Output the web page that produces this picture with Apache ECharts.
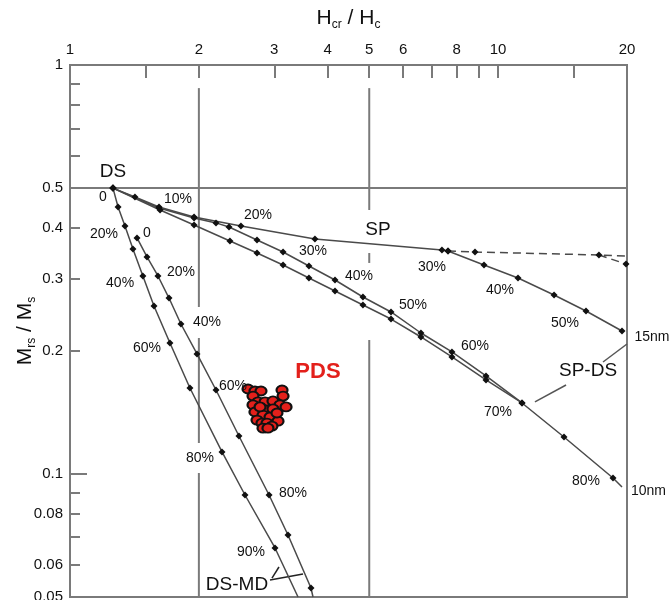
<!DOCTYPE html>
<html>
<head>
<meta charset="utf-8">
<script src="https://cdn.jsdelivr.net/npm/echarts@6/dist/echarts.min.js"></script>
<style>
  html, body { margin: 0; padding: 0; background: #fff; }
  #chart { width: 669px; height: 600px; }
</style>
</head>
<body>
<div id="chart"></div>
<script>
// Axis ticks and labels (both axes logarithmic)
const xTickValues = [1.5, 2, 3, 4, 5, 6, 7, 8, 9, 10, 15];
const xLabelValues = [1, 2, 3, 4, 5, 6, 8, 10, 20];
const yTickValues = [0.06, 0.07, 0.08, 0.09, 0.2, 0.3, 0.4, 0.6, 0.7, 0.8, 0.9];
const yLongTickValues = [0.1];
const yLabelValues = [0.05, 0.06, 0.08, 0.1, 0.2, 0.3, 0.4, 0.5, 1];

// Mixing curves, points are [Hcr/Hc, Mrs/Ms]
// SP–DS mixing through the SP trend, ending at 15 nm
const spDsCurve15 = [
  [1.26, 0.5], [1.418, 0.4755], [1.614, 0.4495], [1.949, 0.425], [2.508, 0.404],
  [3.734, 0.3754], [7.393, 0.3529], [7.636, 0.3509], [9.268, 0.3243], [11.13, 0.3014],
  [13.51, 0.2739], [16.04, 0.2503], [19.47, 0.2236]
];
// SP–DS mixing ending at 10 nm (two nearly coincident curves)
const spDsCurve10a = [
  [1.26, 0.5], [1.614, 0.447], [1.949, 0.4225], [2.193, 0.411], [2.352, 0.4017],
  [2.734, 0.3733], [3.145, 0.3489], [3.615, 0.3225], [4.159, 0.298], [4.834, 0.2708],
  [5.621, 0.2489], [6.603, 0.2211], [7.801, 0.1987], [9.368, 0.1736], [11.37, 0.1491],
  [14.25, 0.1231], [18.55, 0.0977]
];
const spDsCurve10aEnd = [19.47, 0.0929];
const spDsCurve10b = [
  [1.26, 0.5], [1.623, 0.442], [1.949, 0.4063], [2.364, 0.3712], [2.734, 0.3469],
  [3.145, 0.3243], [3.615, 0.3014], [4.159, 0.2801], [4.834, 0.2588], [5.621, 0.2392],
  [6.603, 0.2162], [7.801, 0.1932], [9.368, 0.1697], [11.37, 0.1491]
];
// Saturated SP continuation (dashed)
const spSaturated = [[7.636, 0.3509], [8.831, 0.3489], [17.2, 0.3431]];
const spSaturatedEnd = [20, 0.3411];
const spSaturatedBranch = [[17.2, 0.3431], [19.89, 0.3261]];

// DS–MD mixing curves
const dsMdCurveA = [
  [1.26, 0.5], [1.295, 0.4495], [1.344, 0.404], [1.403, 0.3548], [1.48, 0.3048],
  [1.571, 0.2574], [1.712, 0.209], [1.906, 0.1622], [2.265, 0.1132], [2.563, 0.0888],
  [3.012, 0.0659]
];
const dsMdCurveAEnd = [3.409, 0.05];
const dsMdCurveB = [
  [1.434, 0.3776], [1.513, 0.3393], [1.605, 0.3048], [1.703, 0.2692], [1.816, 0.2326],
  [1.98, 0.1965], [2.193, 0.1604], [2.481, 0.1238], [2.917, 0.0888], [3.23, 0.0709],
  [3.655, 0.0526]
];
const dsMdCurveBEnd = [3.695, 0.05];

// Measured PDS samples
const pdsSamples = [
  [2.605, 0.1613], [2.704, 0.1595], [2.793, 0.1595], [3.128, 0.1604], [3.145, 0.155],
  [2.676, 0.155], [2.749, 0.15], [2.854, 0.15], [2.979, 0.1508], [3.094, 0.1475],
  [3.196, 0.1458], [2.676, 0.1475], [2.885, 0.1433], [2.979, 0.1442], [2.704, 0.1417],
  [2.824, 0.1393], [2.932, 0.1377], [3.061, 0.1346], [2.734, 0.1354], [2.808, 0.1331],
  [2.885, 0.1331], [2.963, 0.1309], [2.824, 0.1294], [2.9, 0.1294], [2.779, 0.1458],
  [3.044, 0.1409]
];

// Reference lines
const guideX2 = [[[2, 0.878], [2, 0.256]], [[2, 0.215], [2, 0.119]], [[2, 0.1005], [2, 0.05]]];
const guideX5 = [[[5, 0.878], [5, 0.442]], [[5, 0.3469], [5, 0.328]], [[5, 0.2126], [5, 0.05]]];
const guideHalf = [[1, 0.5], [20, 0.5]];

// Leader lines from the curve-family names
const leadersSpDs = [[[17.58, 0.1878], [20, 0.2078]], [[12.19, 0.15], [14.41, 0.165]]];
const leadersDsMd = [[[2.932, 0.055], [3.502, 0.0569]], [[2.963, 0.0556], [3.077, 0.0592]]];

// Percentage annotations along the curves
const percentLabels = [
  ['0', 1.194, 0.4755], ['10%', 1.788, 0.4702], ['20%', 2.749, 0.4296], ['30%', 3.695, 0.3509],
  ['30%', 7.008, 0.3207], ['40%', 10.1, 0.2817], ['50%', 14.33, 0.2339],
  ['40%', 4.732, 0.3048], ['50%', 6.326, 0.2588], ['60%', 8.831, 0.2055],
  ['70%', 9.993, 0.1417], ['80%', 16.04, 0.0961],
  ['20%', 1.2, 0.3861], ['0', 1.513, 0.3883], ['20%', 1.816, 0.3118], ['40%', 1.309, 0.293],
  ['40%', 2.089, 0.2352], ['60%', 1.513, 0.2032], ['60%', 2.403, 0.1641],
  ['80%', 2.012, 0.1094], ['80%', 3.318, 0.0898], ['90%', 2.648, 0.0644]
];
const nameLabels = [
  ['DS', 1.26, 0.5477], ['SP', 5.241, 0.3949], ['SP-DS', 16.22, 0.1785], ['DS-MD', 2.455, 0.0535]
];
const pdsLabel = [['PDS', 3.795, 0.1775]];

const FONT = '"Liberation Sans", Arial, Helvetica, sans-serif';
const LINE = '#4a4a4a';
const FRAME = '#7a7a7a';
const INK = '#111';

function markedPoints(points) {
  return points.map(p => ({ value: p }));
}
function plainPoint(p, extra) {
  return Object.assign({ value: p, symbolSize: 0 }, extra || {});
}
function curve(data, dashed) {
  return {
    type: 'line', data: data, symbol: 'diamond', symbolSize: 7, z: 4,
    itemStyle: { color: INK, opacity: 1 },
    lineStyle: { color: LINE, width: 1.5, type: dashed ? [8, 5] : 'solid' },
    emphasis: { disabled: true }, animation: false, clip: false
  };
}
function segment(pts, color, width) {
  return {
    type: 'line', data: pts, symbol: 'none', z: 2, silent: true, clip: false,
    lineStyle: { color: color, width: width }, animation: false
  };
}
function textSeries(items, style) {
  return {
    type: 'scatter', z: 10, clip: false, silent: true, symbolSize: 0,
    itemStyle: { color: 'transparent', opacity: 1 },
    data: items.map(t => ({ name: t[0], value: [t[1], t[2]] })),
    label: Object.assign({
      show: true, position: 'inside', formatter: p => p.name,
      fontFamily: FONT, color: INK, opacity: 1
    }, style),
    animation: false
  };
}
const endLabel = (txt, dy) => ({
  show: true, position: 'right', distance: 9, offset: [0, dy], formatter: txt,
  fontFamily: FONT, fontSize: 14, color: INK
});

const series = [];
guideX2.forEach(s => series.push(segment(s, FRAME, 2)));
guideX5.forEach(s => series.push(segment(s, FRAME, 2)));
series.push(segment(guideHalf, FRAME, 2));
leadersSpDs.forEach(s => series.push(segment(s, '#555', 1.5)));
leadersDsMd.forEach(s => series.push(segment(s, '#222', 1.5)));

const d15 = markedPoints(spDsCurve15);
d15[d15.length - 1].label = endLabel('15nm', 6);
series.push(curve(d15));

const d10 = markedPoints(spDsCurve10a).concat([plainPoint(spDsCurve10aEnd, { label: endLabel('10nm', 4) })]);
series.push(curve(d10));
series.push(curve(markedPoints(spDsCurve10b)));
series.push(curve(markedPoints(spSaturated).concat([plainPoint(spSaturatedEnd)]), true));
series.push(curve(spSaturatedBranch.map((p, i) => i === 0 ? plainPoint(p) : { value: p }), true));
series.push(curve(markedPoints(dsMdCurveA).concat([plainPoint(dsMdCurveAEnd)])));
series.push(curve(markedPoints(dsMdCurveB).concat([plainPoint(dsMdCurveBEnd)])));

series.push({
  type: 'scatter', data: pdsSamples, symbol: 'circle', symbolSize: [11, 9], z: 6,
  itemStyle: { color: '#e3201b', borderColor: INK, borderWidth: 2, opacity: 1 }, animation: false
});

series.push(textSeries(percentLabels, { fontSize: 14 }));
series.push(textSeries(nameLabels, { fontSize: 19 }));
series.push(textSeries(pdsLabel, { fontSize: 22, fontWeight: 'bold', color: '#e3201b' }));

const richName = {
  m: { fontFamily: FONT, fontSize: 21, color: INK, lineHeight: 26 },
  s: { fontFamily: FONT, fontSize: 12, color: INK, verticalAlign: 'bottom', lineHeight: 14 }
};

const chart = echarts.init(document.getElementById('chart'), null, { renderer: 'canvas' });
chart.setOption({
  animation: false,
  backgroundColor: '#fff',
  grid: {
    left: 70, right: 42, top: 65, bottom: 3, outerBoundsMode: 'none', containLabel: false,
    show: true, borderColor: FRAME, borderWidth: 2, backgroundColor: 'transparent'
  },
  xAxis: {
    type: 'log', logBase: 10, min: 1, max: 20, position: 'top',
    name: '{m|H}{s|cr}{m| / H}{s|c}', nameLocation: 'middle', nameGap: 34, nameMoveOverlap: false,
    nameTextStyle: { rich: richName },
    axisLine: { show: true, lineStyle: { color: FRAME, width: 2 } },
    axisTick: { show: true, inside: true, length: 13, customValues: xTickValues, lineStyle: { color: FRAME, width: 2 } },
    axisLabel: { show: true, customValues: xLabelValues, margin: 8, fontFamily: FONT, fontSize: 15, color: INK },
    splitLine: { show: false }, minorTick: { show: false }
  },
  yAxis: [{
    type: 'log', logBase: 10, min: 0.05, max: 1, position: 'left',
    name: '{m|M}{s|rs}{m| / M}{s|s}', nameLocation: 'middle', nameGap: 32, nameRotate: 90, nameMoveOverlap: false,
    nameTextStyle: { rich: richName },
    axisLine: { show: true, lineStyle: { color: FRAME, width: 2 } },
    axisTick: { show: true, inside: true, length: 10, customValues: yTickValues, lineStyle: { color: FRAME, width: 2 } },
    axisLabel: { show: true, customValues: yLabelValues, margin: 7, fontFamily: FONT, fontSize: 15, color: INK },
    splitLine: { show: false }, minorTick: { show: false }
  }, {
    type: 'log', logBase: 10, min: 0.05, max: 1, position: 'left',
    axisLine: { show: false },
    axisTick: { show: true, inside: true, length: 17, customValues: yLongTickValues, lineStyle: { color: FRAME, width: 2 } },
    axisLabel: { show: false }, splitLine: { show: false }
  }],
  series: series
});
</script>
</body>
</html>
